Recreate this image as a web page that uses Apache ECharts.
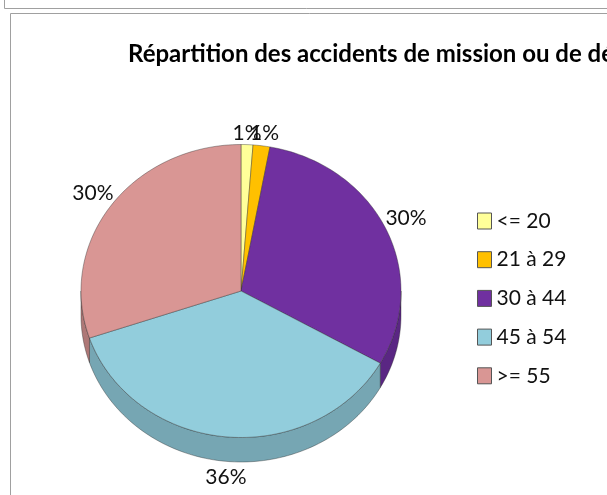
<!DOCTYPE html>
<html><head><meta charset="utf-8">
<style>html,body{margin:0;padding:0;background:#fff}#c{width:607px;height:495px}</style>
<script src="https://cdn.jsdelivr.net/npm/echarts@6/dist/echarts.min.js"></script>
</head><body><div id="c"></div>
<script>
const categories = ["<= 20", "21 à 29", "30 à 44", "45 à 54", ">= 55"];
const shares = [1.2, 1.7, 30.3, 36.6, 30.2];
const percentLabels = ["1%", "1%", "30%", "36%", "30%"];
const topColors = ["#FFFF99", "#FFC000", "#7030A0", "#92CDDC", "#D99694"];
const wallColors = ["#CCCC7A", "#CC9A00", "#5A2683", "#76A6B3", "#AE7877"];
const chartTitle = "Répartition des accidents de mission ou de déplacement";

const FONT = 'Lato,"Open Sans",sans-serif';
const CX = 241, CY = 291, RX = 160, RY = 146.5, DEPTH = 24.5;
const labelShift = [[0,-11],[3,-12],[20,-11],[0,40],[-18,-12]];
const total = shares.reduce((a,b)=>a+b,0);
const pt = (deg, dy=0) => { const t = deg*Math.PI/180;
  return [CX + RX*Math.sin(t), CY - RY*Math.cos(t) + dy]; };
const arc = (a,b,dy=0) => { const n = Math.max(2,Math.ceil(Math.abs(b-a)/1.5)); const out=[];
  for(let i=0;i<=n;i++) out.push(pt(a+(b-a)*i/n,dy)); return out; };

function sliceRenderer(idx){
  let before = 0; for(let i=0;i<idx;i++) before += shares[i];
  return function(params, api){
    const a = before/total*360, b = a + api.value(0)/total*360;
    const children = [];
    const wa = Math.max(a,90), wb = Math.min(b,270);
    if (wb > wa) {
      children.push({type:'polygon', shape:{points: arc(wa,wb).concat(arc(wb,wa,DEPTH))},
        style:{fill:wallColors[idx], stroke:'rgba(40,40,40,.55)', lineWidth:.7}});
    }
    children.push({type:'polygon', shape:{points:[[CX,CY]].concat(arc(a,b))},
      style:{fill:topColors[idx], stroke:'rgba(40,40,40,.55)', lineWidth:.7}});
    const m = pt((a+b)/2), s = labelShift[idx];
    children.push({type:'text', z2:10, style:{x:m[0]+s[0], y:m[1]+s[1], text:percentLabels[idx],
      fill:'#111', font:'21px '+FONT, align:'center', verticalAlign:'middle'}});
    return {type:'group', children};
  };
}

const chart = echarts.init(document.getElementById('c'),null,{renderer:'canvas'});
chart.setOption({
  animation:false, backgroundColor:'#fff',
  title:{text:chartTitle, left:128, top:42, padding:0, textStyle:{fontFamily:FONT,fontWeight:'bold',fontSize:24,color:'#000'}},
  legend:{orient:'vertical', left:477, top:209, padding:0, icon:'rect', itemWidth:14, itemHeight:16, itemGap:14.7,
    data:categories, selectedMode:false,
    itemStyle:{borderColor:'#555',borderWidth:1},
    textStyle:{fontFamily:FONT,fontSize:21,color:'#111',lineHeight:24}},
  graphic:[
    {type:'rect',shape:{x:4.5,y:-10,width:700,height:18.5},style:{fill:'none',stroke:'#A0A0A0',lineWidth:1},z:-1},
    {type:'rect',shape:{x:10.5,y:13.5,width:700,height:600},style:{fill:'none',stroke:'#A0A0A0',lineWidth:1},z:-1}
  ],
  series: categories.map((name,i)=>({
    type:'custom', name, coordinateSystem:'none',
    itemStyle:{color:topColors[i]},
    data:[[shares[i]]], renderItem:sliceRenderer(i)
  }))
});
</script></body></html>
